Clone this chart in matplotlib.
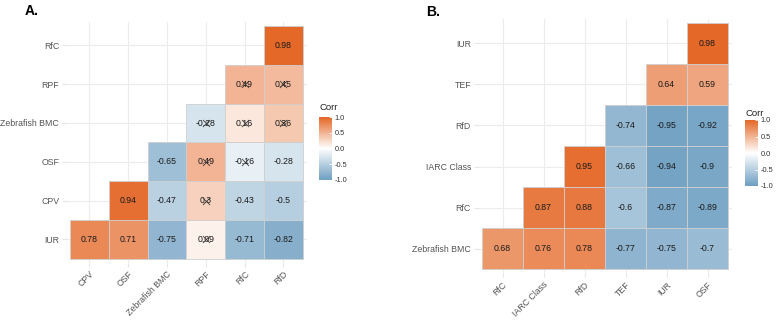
import numpy as np
import matplotlib
matplotlib.use("Agg")
import matplotlib.pyplot as plt
from matplotlib.colors import LinearSegmentedColormap, Normalize
from matplotlib.cm import ScalarMappable
from matplotlib.patches import Rectangle

plt.rcParams['font.family'] = ['Liberation Sans', 'DejaVu Sans']

nan = np.nan
# ---------------- Panel A ----------------
a_cols = ["CPV", "OSF", "Zebrafish BMC", "RPF", "RfC", "RfD"]
a_rows = ["IUR", "CPV", "OSF", "Zebrafish BMC", "RPF", "RfC"]  # bottom -> top
a_iur = [0.78, 0.71, -0.75, 0.09, -0.71, -0.82]
a_cpv = [nan, 0.94, -0.47, 0.30, -0.43, -0.50]
a_osf = [nan, nan, -0.65, 0.49, -0.16, -0.28]
a_zbmc = [nan, nan, nan, -0.28, 0.16, 0.36]
a_rpf = [nan, nan, nan, nan, 0.49, 0.45]
a_rfc = [nan, nan, nan, nan, nan, 0.98]
# insignificant (crossed) cells: (row, col)
a_insig = [("IUR", "RPF"), ("CPV", "RPF"), ("OSF", "RPF"), ("OSF", "RfC"),
           ("Zebrafish BMC", "RPF"), ("Zebrafish BMC", "RfC"), ("Zebrafish BMC", "RfD"),
           ("RPF", "RfC"), ("RPF", "RfD")]

# ---------------- Panel B ----------------
b_cols = ["RfC", "IARC Class", "RfD", "TEF", "IUR", "OSF"]
b_rows = ["Zebrafish BMC", "RfC", "IARC Class", "RfD", "TEF", "IUR"]  # bottom -> top
b_zbmc = [0.68, 0.76, 0.78, -0.77, -0.75, -0.70]
b_rfc = [nan, 0.87, 0.88, -0.60, -0.87, -0.89]
b_iarc = [nan, nan, 0.95, -0.66, -0.94, -0.90]
b_rfd = [nan, nan, nan, -0.74, -0.95, -0.92]
b_tef = [nan, nan, nan, nan, 0.64, 0.59]
b_iur = [nan, nan, nan, nan, nan, 0.98]
b_insig = []

cmap = LinearSegmentedColormap.from_list("corr", ["#6D9EC1", "#FFFFFF", "#E46726"])
norm = Normalize(-1, 1)

W, H = 779, 320
fig = plt.figure(figsize=(W / 100, H / 100), dpi=100)


def px_axes(left, top, width, height):
    return fig.add_axes([left / W, (H - top - height) / H, width / W, height / H])


def fmt(v):
    return f"{round(v, 2):g}"


def draw_panel(ax, mat, rows, cols, insig):
    mat = np.array(mat, dtype=float)
    n = len(cols)
    ax.set_xlim(-0.6, n - 0.4)
    ax.set_ylim(-0.6, n - 0.4)
    ax.set_axisbelow(True)
    ax.grid(True, color="#ececec", linewidth=0.8)
    for s in ax.spines.values():
        s.set_visible(False)
    for i in range(len(rows)):
        for j in range(n):
            v = mat[i, j]
            if np.isnan(v):
                continue
            ax.add_patch(Rectangle((j - 0.5, i - 0.5), 1, 1, facecolor=cmap(norm(v)),
                                   edgecolor="#cfcfcf", linewidth=0.6, zorder=2))
            ax.text(j, i, fmt(v), ha="center", va="center", fontsize=6.3,
                    color="#1a1a1a", zorder=3)
    for r, c in insig:
        ax.scatter([cols.index(c)], [rows.index(r)], marker="x", s=26,
                   linewidths=0.55, color="#333333", zorder=5)
    ax.set_xticks(range(n))
    ax.set_yticks(range(len(rows)))
    ax.set_xticklabels(cols, rotation=45, ha="right", va="top", rotation_mode="anchor",
                       fontsize=6.3, color="#555555")
    ax.set_yticklabels(rows, fontsize=6.3, color="#555555")
    ax.tick_params(length=3, color="#e5e5e5", width=0.8, pad=2)


def draw_cbar(left, top, width, height, title_y):
    cax = px_axes(left, top, width, height)
    cb = fig.colorbar(ScalarMappable(norm=norm, cmap=cmap), cax=cax, ticks=[-1, -0.5, 0, 0.5, 1])
    cb.outline.set_visible(False)
    cb.ax.set_yticklabels(["-1.0", "-0.5", "0.0", "0.5", "1.0"])
    cb.ax.tick_params(length=2.5, color="white", direction="in", labelsize=5.3,
                      labelcolor="#333333", pad=2, width=0.6)
    fig.text(left / W, 1 - title_y / H, "Corr", fontsize=6.8, color="#222222",
             ha="left", va="center")


# Panel A layout
cellA = 38.8
axA = px_axes(70 - 0.1 * cellA, 26 - 0.1 * cellA, 6.2 * cellA, 6.2 * cellA)
matA = [a_iur, a_cpv, a_osf, a_zbmc, a_rpf, a_rfc]
draw_panel(axA, matA, a_rows, a_cols, a_insig)
draw_cbar(319, 117, 13, 63, 108)
fig.text(25 / W, 1 - 11 / H, "A.", fontsize=10, fontweight="bold", ha="left", va="center")

# Panel B layout
cellB = 41.0
axB = px_axes(482 - 0.1 * cellB, 23 - 0.1 * cellB, 6.2 * cellB, 6.2 * cellB)
matB = [b_zbmc, b_rfc, b_iarc, b_rfd, b_tef, b_iur]
draw_panel(axB, matB, b_rows, b_cols, b_insig)
draw_cbar(745, 120, 13, 66, 113)
fig.text(426 / W, 1 - 12 / H, "B.", fontsize=10, fontweight="bold", ha="left", va="center")

fig.savefig("out.png", dpi=100)
